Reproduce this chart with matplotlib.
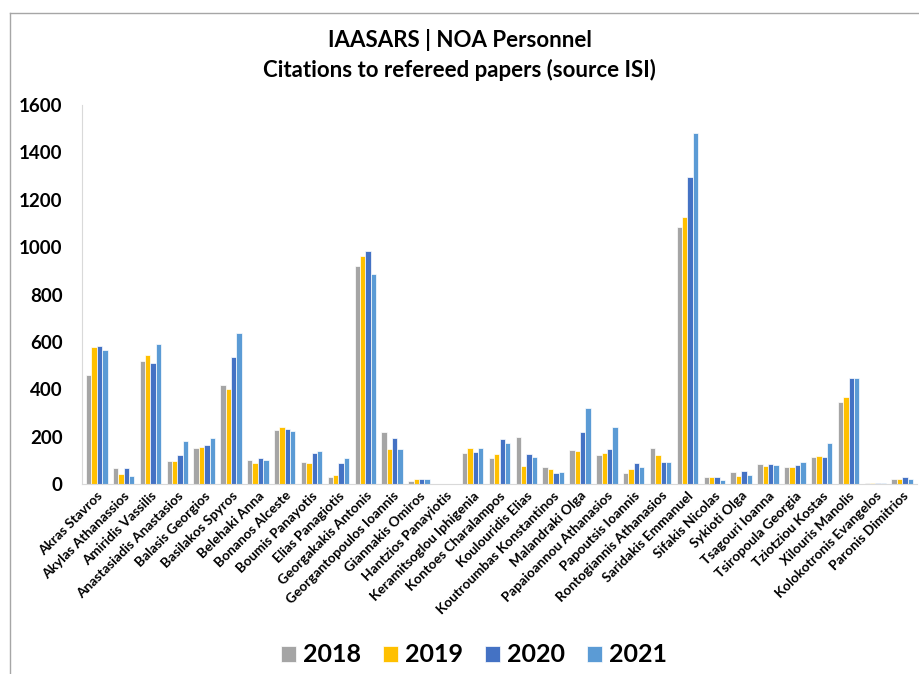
import numpy as np
import matplotlib
matplotlib.use("Agg")
import matplotlib.pyplot as plt
from matplotlib.lines import Line2D

names = ["Akras Stavros", "Akylas Athanassios", "Amiridis Vassilis", "Anastasiadis Anastasios",
         "Balasis Georgios", "Basilakos Spyros", "Belehaki Anna", "Bonanos Alceste",
         "Boumis Panayotis", "Elias Panagiotis", "Georgakakis Antonis", "Georgantopoulos Ioannis",
         "Giannakis Omiros", "Hantzios Panayiotis", "Keramitsoglou Iphigenia", "Kontoes Charalampos",
         "Koulouridis Elias", "Koutroumbas Konstantinos", "Malandraki Olga", "Papaioannou Athanasios",
         "Papoutsis Ioannis", "Rontogiannis Athanasios", "Saridakis Emmanuel", "Sifakis Nicolas",
         "Sykioti Olga", "Tsagouri Ioanna", "Tsiropoula Georgia", "Tziotziou Kostas",
         "Xilouris Manolis", "Kolokotronis Evangelos", "Paronis Dimitrios"]

c2018 = [460, 69, 521, 97, 152, 418, 103, 227, 94, 28, 922, 221, 14, 0, 132, 110,
         197, 72, 144, 121, 48, 152, 1085, 28, 51, 83, 72, 115, 345, 3, 22]
c2019 = [578, 44, 545, 98, 155, 400, 89, 241, 90, 39, 962, 146, 20, 0, 152, 127,
         77, 62, 141, 129, 62, 121, 1128, 28, 34, 77, 72, 118, 369, 3, 20]
c2020 = [584, 69, 512, 124, 166, 537, 108, 234, 129, 87, 982, 193, 22, 2, 135, 189,
         127, 48, 218, 149, 89, 91, 1296, 28, 53, 86, 80, 115, 446, 3, 28]
c2021 = [564, 35, 590, 181, 196, 639, 103, 224, 141, 110, 886, 149, 22, 2, 152, 172,
         115, 51, 322, 239, 73, 91, 1480, 17, 39, 80, 91, 174, 449, 3, 20]

years = ["2018", "2019", "2020", "2021"]
colors = ["#A5A5A5", "#FFC000", "#4472C4", "#5B9BD5"]

plt.rcParams['font.family'] = ['Lato', 'DejaVu Sans']

fig = plt.figure(figsize=(9.19, 6.74), dpi=100)
ax = fig.add_axes([82/919, 1 - 484/674, 835/919, (484 - 105)/674])

x = np.arange(len(names))
w = 0.2
for i, vals in enumerate([c2018, c2019, c2020, c2021]):
    ax.bar(x + (i - 1.5) * w, vals, width=w, color=colors[i], edgecolor="white",
           linewidth=0.5, label=years[i])

ax.set_ylim(0, 1600)
ax.set_xlim(-0.55, len(names) - 0.45)
ax.set_yticks(range(0, 1601, 200))
ax.tick_params(axis='y', length=0, labelsize=13.5, pad=14)
for t in ax.get_yticklabels():
    t.set_fontweight('bold')
ax.set_xticks(x)
ax.set_xticklabels(names, rotation=45, ha='right', rotation_mode='anchor',
                   fontsize=9.8, fontweight='bold')
ax.tick_params(axis='x', length=0, pad=4)
for s in ['top', 'right']:
    ax.spines[s].set_visible(False)
ax.spines['left'].set_color('#D9D9D9')
ax.spines['bottom'].set_color('#D9D9D9')

fig.text(0.5, 1 - 40/674, "IAASARS | NOA Personnel", ha='center', va='center',
         fontsize=16, fontweight='bold')
fig.text(0.5, 1 - 70/674, "Citations to refereed papers (source ISI)", ha='center',
         va='center', fontsize=16, fontweight='bold')

fig.legend(loc='center', bbox_to_anchor=(473.5/919, 1 - 655/674), ncol=4, frameon=False,
           prop={'size': 18, 'weight': 'bold'}, handlelength=0.6, handleheight=0.6,
           columnspacing=0.88, handletextpad=0.28)

# chart border
fig.add_artist(Line2D([10/919, 1], [1 - 13/674, 1 - 13/674], color='#A6A6A6', lw=1))
fig.add_artist(Line2D([10/919, 10/919], [0, 1 - 13/674], color='#A6A6A6', lw=1))

fig.savefig("out.png", dpi=100)
